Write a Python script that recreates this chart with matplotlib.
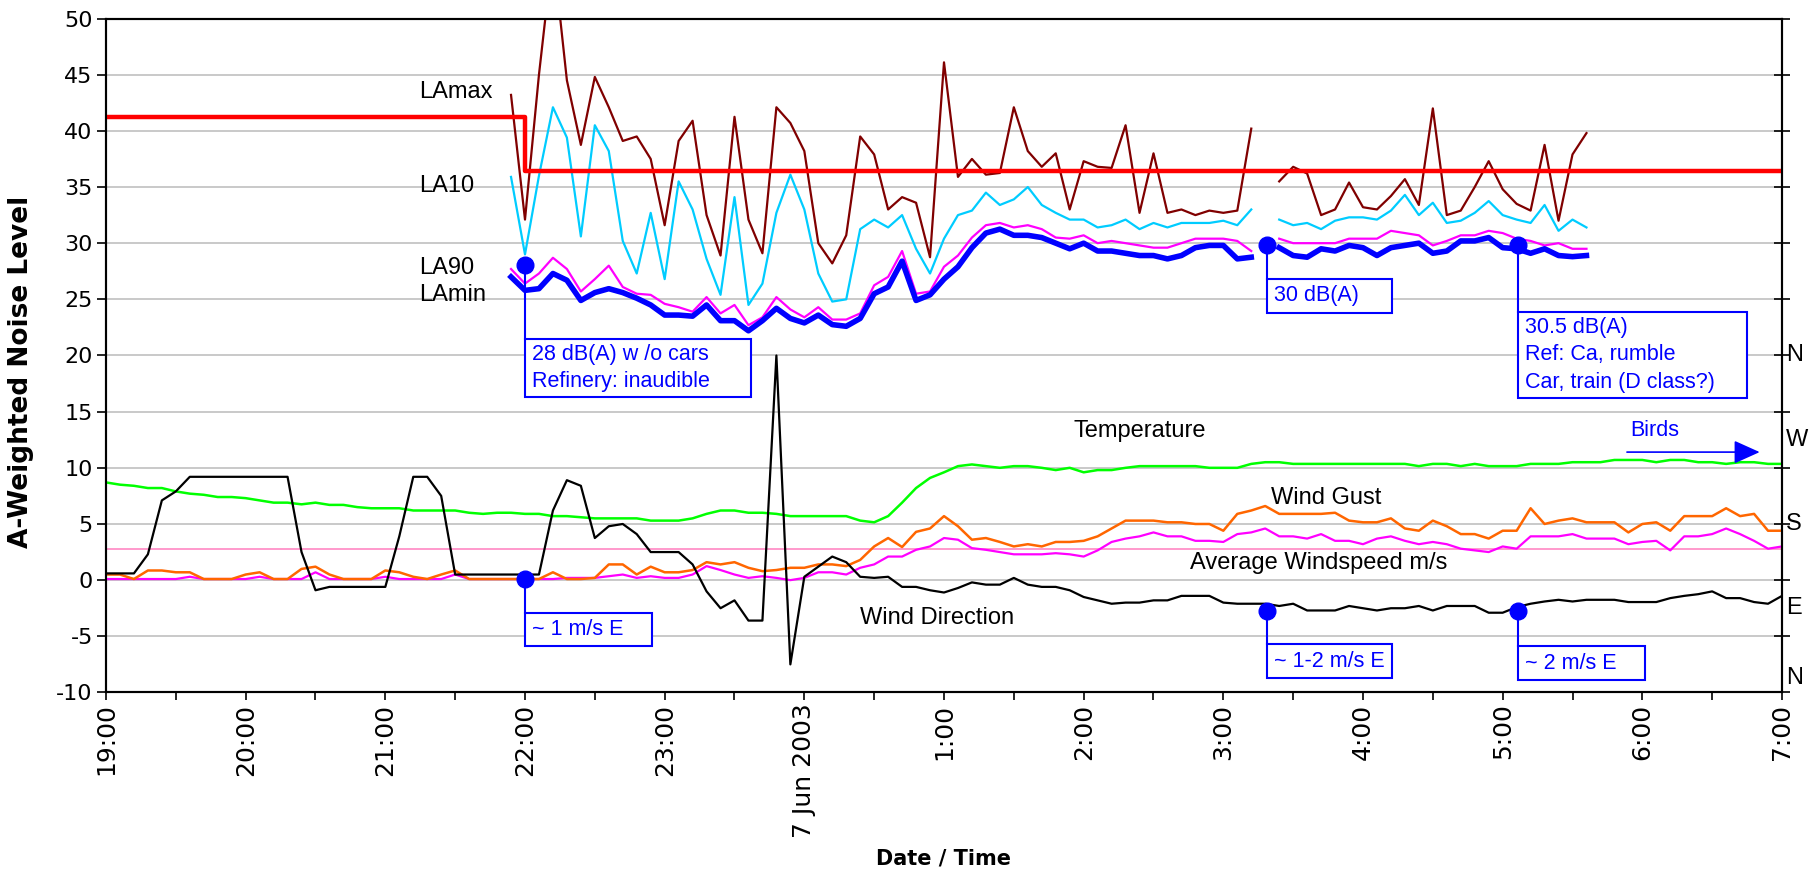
import numpy as np
import matplotlib.pyplot as plt
from matplotlib.patches import Rectangle

plt.rcParams['font.family'] = ['Liberation Sans', 'DejaVu Sans']
plt.rcParams['axes.unicode_minus'] = False

# hours after 19:00 (6 Jun 2003), one sample every 6 minutes
weather_hours = np.arange(121) * 0.1
noise_hours = 2.9 + np.arange(78) * 0.1

hour_ticks = list(range(13))
hour_labels = ['19:00', '20:00', '21:00', '22:00', '23:00', '7 Jun 2003',
               '1:00', '2:00', '3:00', '4:00', '5:00', '6:00', '7:00']

# noise levels dB(A), 21:54 .. 5:36 (gap at 3:18)
la_max = [43.2, 32.1, 45.0, 56.0, 44.5, 38.75, 44.8, 42.1, 39.1, 39.5, 37.5,
          31.6, 39.1, 40.9, 32.5, 28.9, 41.25, 32.1, 29.1, 42.1, 40.7,
          38.2, 30.0, 28.2, 30.7, 39.5, 37.9, 33.0, 34.1, 33.6, 28.75,
          46.1, 35.9, 37.5, 36.1, 36.25, 42.1, 38.2, 36.8, 38.0, 33.0,
          37.3, 36.8, 36.7, 40.5, 32.7, 38.0, 32.7, 33.0, 32.5, 32.9,
          32.7, 32.9, 40.2, np.nan, 35.5, 36.8, 36.2, 32.5, 33.0, 35.4,
          33.2, 33.0, 34.2, 35.7, 33.4, 42.0, 32.5, 32.9, 35.0, 37.3,
          34.8, 33.5, 32.9, 38.75, 32.0, 37.9, 39.8]
la_10 = [35.9, 29.0, 36.0, 42.1, 39.4, 30.6, 40.5, 38.2, 30.2, 27.3, 32.7,
         26.8, 35.5, 33.0, 28.6, 25.4, 34.1, 24.5, 26.4, 32.7, 36.1,
         33.0, 27.3, 24.8, 25.0, 31.25, 32.1, 31.4, 32.5, 29.5, 27.3,
         30.4, 32.5, 32.9, 34.5, 33.4, 33.9, 35.0, 33.4, 32.7, 32.1,
         32.1, 31.4, 31.6, 32.1, 31.25, 31.8, 31.4, 31.8, 31.8, 31.8,
         32.0, 31.6, 33.0, np.nan, 32.1, 31.6, 31.8, 31.25, 32.0, 32.3,
         32.3, 32.1, 32.9, 34.3, 32.5, 33.6, 31.8, 32.0, 32.7, 33.75,
         32.5, 32.1, 31.8, 33.4, 31.1, 32.1, 31.4]
la_90 = [27.7, 26.4, 27.3, 28.7, 27.7, 25.7, 26.8, 28.0, 26.1, 25.5, 25.4,
         24.6, 24.3, 23.9, 25.2, 23.75, 24.5, 22.7, 23.4, 25.2, 24.1,
         23.4, 24.3, 23.2, 23.2, 23.75, 26.25, 27.0, 29.3, 25.5, 25.7,
         27.9, 28.9, 30.5, 31.6, 31.8, 31.4, 31.6, 31.25, 30.5, 30.4,
         30.7, 30.0, 30.2, 30.0, 29.8, 29.6, 29.6, 30.0, 30.4, 30.4,
         30.4, 30.2, 29.3, np.nan, 30.4, 30.0, 30.0, 30.0, 30.0, 30.4,
         30.4, 30.4, 31.1, 30.9, 30.7, 29.8, 30.2, 30.7, 30.7, 31.1,
         30.9, 30.4, 30.2, 29.8, 30.0, 29.5, 29.5]
la_min = [27.0, 25.8, 25.95, 27.3, 26.7, 24.9, 25.6, 25.95, 25.6, 25.1, 24.5,
          23.6, 23.6, 23.5, 24.5, 23.1, 23.1, 22.2, 23.1, 24.2, 23.3,
          22.9, 23.6, 22.75, 22.6, 23.3, 25.5, 26.1, 28.4, 24.9, 25.4,
          26.8, 27.9, 29.6, 30.9, 31.25, 30.7, 30.7, 30.5, 30.0, 29.5,
          30.0, 29.3, 29.3, 29.1, 28.9, 28.9, 28.6, 28.9, 29.6, 29.8,
          29.8, 28.6, 28.75, np.nan, 29.6, 28.9, 28.75, 29.5, 29.3, 29.8,
          29.6, 28.9, 29.6, 29.8, 30.0, 29.1, 29.3, 30.2, 30.2, 30.5,
          29.6, 29.5, 29.1, 29.5, 28.9, 28.8, 28.9]

# criterion level, steps down at 22:00
criterion_hours = [0, 3, 12]
criterion_levels = [41.2, 36.4, 36.4]
reference_level = 2.8

# weather, 19:00 .. 7:00
temperature = [8.7, 8.5, 8.4, 8.2, 8.2, 7.9, 7.7, 7.6, 7.4, 7.4,
               7.3, 7.1, 6.9, 6.9, 6.75, 6.9, 6.7, 6.7, 6.5, 6.4,
               6.4, 6.4, 6.2, 6.2, 6.2, 6.2, 6.0, 5.9, 6.0, 6.0,
               5.9, 5.9, 5.7, 5.7, 5.6, 5.5, 5.5, 5.5, 5.5, 5.3,
               5.3, 5.3, 5.5, 5.9, 6.2, 6.2, 6.0, 6.0, 5.9, 5.7,
               5.7, 5.7, 5.7, 5.7, 5.3, 5.15, 5.7, 6.9, 8.2, 9.1,
               9.6, 10.15, 10.3, 10.15, 10.0, 10.15, 10.15, 10.0, 9.8, 10.0,
               9.6, 9.8, 9.8, 10.0, 10.15, 10.15, 10.15, 10.15, 10.15, 10.0,
               10.0, 10.0, 10.35, 10.5, 10.5, 10.35, 10.35, 10.35, 10.35, 10.35,
               10.35, 10.35, 10.35, 10.35, 10.15, 10.35, 10.35, 10.15, 10.35, 10.15,
               10.15, 10.15, 10.35, 10.35, 10.35, 10.5, 10.5, 10.5, 10.7, 10.7,
               10.7, 10.5, 10.7, 10.7, 10.5, 10.5, 10.35, 10.5, 10.5, 10.35,
               10.35]
wind_gust = [0.5, 0.5, 0.1, 0.86, 0.86, 0.7, 0.7, 0.1, 0.1, 0.1,
             0.5, 0.7, 0.1, 0.1, 1.0, 1.2, 0.5, 0.1, 0.1, 0.1,
             0.86, 0.7, 0.3, 0.1, 0.5, 0.86, 0.1, 0.1, 0.1, 0.1,
             0.1, 0.1, 0.7, 0.1, 0.1, 0.2, 1.4, 1.4, 0.5, 1.2,
             0.7, 0.7, 0.9, 1.6, 1.4, 1.6, 1.1, 0.8, 0.9, 1.1,
             1.1, 1.4, 1.4, 1.25, 1.8, 3.0, 3.75, 2.95, 4.3, 4.6,
             5.7, 4.8, 3.6, 3.75, 3.4, 3.0, 3.2, 3.0, 3.4, 3.4,
             3.5, 3.9, 4.6, 5.3, 5.3, 5.3, 5.15, 5.15, 5.0, 5.0,
             4.4, 5.9, 6.2, 6.6, 5.9, 5.9, 5.9, 5.9, 6.0, 5.3,
             5.15, 5.15, 5.5, 4.6, 4.4, 5.3, 4.8, 4.1, 4.1, 3.7,
             4.4, 4.4, 6.4, 5.0, 5.3, 5.5, 5.15, 5.15, 5.15, 4.25,
             5.0, 5.15, 4.4, 5.7, 5.7, 5.7, 6.4, 5.7, 5.9, 4.4,
             4.4]
wind_speed = [0.1, 0.1, 0.1, 0.1, 0.1, 0.1, 0.3, 0.1, 0.1, 0.1,
              0.1, 0.3, 0.1, 0.1, 0.1, 0.7, 0.1, 0.1, 0.1, 0.1,
              0.3, 0.1, 0.1, 0.1, 0.1, 0.5, 0.1, 0.1, 0.1, 0.1,
              0.1, 0.1, 0.1, 0.2, 0.2, 0.2, 0.35, 0.5, 0.2, 0.35,
              0.2, 0.2, 0.5, 1.25, 0.9, 0.5, 0.2, 0.35, 0.2, 0.0,
              0.2, 0.7, 0.7, 0.5, 1.1, 1.4, 2.1, 2.1, 2.7, 3.0,
              3.75, 3.6, 2.85, 2.7, 2.5, 2.3, 2.3, 2.3, 2.4, 2.3,
              2.1, 2.65, 3.4, 3.7, 3.9, 4.25, 3.9, 3.9, 3.5, 3.5,
              3.4, 4.1, 4.25, 4.6, 3.9, 3.9, 3.7, 4.1, 3.5, 3.5,
              3.2, 3.7, 3.9, 3.5, 3.2, 3.4, 3.2, 2.8, 2.65, 2.5,
              3.0, 2.8, 3.9, 3.9, 3.9, 4.1, 3.7, 3.7, 3.7, 3.2,
              3.4, 3.5, 2.65, 3.9, 3.9, 4.1, 4.6, 4.1, 3.5, 2.8,
              3.0]
wind_direction = [0.6, 0.6, 0.6, 2.3, 7.1, 7.9, 9.2, 9.2, 9.2, 9.2,
                  9.2, 9.2, 9.2, 9.2, 2.5, -0.9, -0.6, -0.6, -0.6, -0.6,
                  -0.6, 3.9, 9.2, 9.2, 7.5, 0.5, 0.5, 0.5, 0.5, 0.5,
                  0.5, 0.5, 6.2, 8.9, 8.4, 3.75, 4.8, 5.0, 4.1, 2.5,
                  2.5, 2.5, 1.4, -1.0, -2.5, -1.8, -3.6, -3.6, 20.0, -7.5,
                  0.3, 1.2, 2.1, 1.6, 0.3, 0.2, 0.3, -0.6, -0.6, -0.9,
                  -1.1, -0.7, -0.2, -0.4, -0.4, 0.2, -0.4, -0.6, -0.6, -0.9,
                  -1.5, -1.8, -2.1, -2.0, -2.0, -1.8, -1.8, -1.4, -1.4, -1.4,
                  -2.0, -2.1, -2.1, -2.1, -2.3, -2.1, -2.7, -2.7, -2.7, -2.3,
                  -2.5, -2.7, -2.5, -2.5, -2.3, -2.7, -2.3, -2.3, -2.3, -2.9,
                  -2.9, -2.4, -2.1, -1.9, -1.75, -1.9, -1.75, -1.75, -1.75, -1.95,
                  -1.95, -1.95, -1.6, -1.4, -1.25, -1.0, -1.6, -1.6, -1.95, -2.1,
                  -1.4]

# compass labels for the wind direction scale on the right
compass_labels = ['N', 'W', 'S', 'E', 'N']
compass_levels = [20, 12.5, 5, -2.5, -8.7]

# callouts
callout_hours = [3.0, 8.31, 10.11]
noise_callout_levels = [28.1, 29.8, 29.8]
noise_callout_text = ['28 dB(A) w /o cars\nRefinery: inaudible',
                      '30 dB(A)',
                      '30.5 dB(A)\nRef: Ca, rumble\nCar, train (D class?)']
wind_callout_levels = [0.1, -2.75, -2.75]
wind_callout_text = ['~ 1 m/s E', '~ 1-2 m/s E', '~ 2 m/s E']

BLUE = '#0000ff'

fig = plt.figure(figsize=(18.18, 8.74), dpi=100)
ax = fig.add_axes([0.0583, 0.2077, 0.9219, 0.7711])
ax.set_xlim(0, 12)
ax.set_ylim(-10, 50)

ax.grid(axis='y', color='#c0c0c0', lw=1.2)
ax.set_axisbelow(True)
for s in ax.spines.values():
    s.set_linewidth(1.5)

ax.set_yticks(range(-10, 51, 5))
ax.set_xticks(hour_ticks)
ax.set_xticks(np.arange(0.5, 12, 1.0), minor=True)
ax.set_xticklabels(hour_labels, rotation=90, family='DejaVu Sans', fontsize=18)
ax.tick_params(axis='x', which='both', direction='out', length=6, width=1.2, pad=2)
ax.tick_params(axis='y', direction='out', length=6.5, width=1.2, pad=3, labelsize=16)
for lab in ax.get_yticklabels():
    lab.set_family('DejaVu Sans')

ax2 = ax.twinx()
ax2.set_ylim(-10, 50)
ax2.set_yticks(range(-10, 51, 5))
ax2.tick_params(axis='y', direction='inout', length=11, width=1.2, labelright=False)
for s in ax2.spines.values():
    s.set_linewidth(1.5)

# noise
ax.plot(noise_hours, la_max, color='#800000', lw=1.6, zorder=3)
ax.plot(noise_hours, la_10, color='#00ccff', lw=1.6, zorder=3)
ax.plot(noise_hours, la_90, color='#ff00ff', lw=1.6, zorder=3)
ax.plot(noise_hours, la_min, color=BLUE, lw=4, zorder=3)

# weather
ax.axhline(reference_level, color='#ff99cc', lw=1.4, zorder=2)
ax.plot(weather_hours, temperature, color='#00ff00', lw=1.8, zorder=3)
ax.plot(weather_hours, wind_speed, color='#ff00ff', lw=1.6, zorder=3)
ax.plot(weather_hours, wind_gust, color='#ff6600', lw=1.8, zorder=3)
ax.plot(weather_hours, wind_direction, color='black', lw=1.6, zorder=3)

ax.plot(criterion_hours, criterion_levels, drawstyle='steps-post',
        color='#ff0000', lw=3.2, zorder=4)

# series labels
for txt, y in [('LAmax', 43.5), ('LA10', 35.1), ('LA90', 27.8), ('LAmin', 25.4)]:
    ax.text(2.24, y, txt, fontsize=17, ha='left', va='center')
ax.text(7.40, 13.3, 'Temperature', fontsize=17, ha='center', va='center')
ax.text(8.74, 7.3, 'Wind Gust', fontsize=17, ha='center', va='center')
ax.text(8.68, 1.5, 'Average Windspeed m/s', fontsize=17, ha='center', va='center')
ax.text(5.95, -3.4, 'Wind Direction', fontsize=17, ha='center', va='center')

ax.text(11.09, 13.3, 'Birds', fontsize=15.5, color=BLUE, ha='center', va='center')
ax.annotate('', xy=(11.86, 11.4), xytext=(10.87, 11.4),
            arrowprops=dict(arrowstyle='-|>,head_length=0.8,head_width=0.36',
                            color=BLUE, lw=1.2, mutation_scale=20))

for txt, y in zip(compass_labels, compass_levels):
    ax.text(12.03, y, txt, fontsize=17, ha='left', va='center', clip_on=False)

# callout boxes: (left, right, bottom, top)
noise_boxes = [(3.0, 4.62, 16.3, 21.5), (8.31, 9.21, 23.8, 26.85),
               (10.11, 11.75, 16.2, 23.9)]
wind_boxes = [(3.0, 3.91, -5.9, -2.9), (8.31, 9.21, -8.75, -5.7),
              (10.11, 11.02, -8.9, -5.9)]

for hx, lv, txt, box in zip(callout_hours * 2,
                            noise_callout_levels + wind_callout_levels,
                            noise_callout_text + wind_callout_text,
                            noise_boxes + wind_boxes):
    x0, x1, y0, y1 = box
    ax.plot([hx, hx], [lv, y1], color=BLUE, lw=1.5, zorder=5)
    ax.add_patch(Rectangle((x0, y0), x1 - x0, y1 - y0, facecolor='white',
                           edgecolor=BLUE, lw=1.5, zorder=6))
    ax.text(x0 + 0.05, (y0 + y1) / 2, txt, color=BLUE, fontsize=15.5,
            ha='left', va='center', linespacing=1.38, zorder=7)
    ax.plot(hx, lv, 'o', color=BLUE, ms=12, zorder=6)

fig.text(0.0116, 0.574, 'A-Weighted Noise Level', rotation=90, fontsize=19,
         weight='bold', family='DejaVu Sans', ha='center', va='center')
fig.text(0.519, 0.018, 'Date / Time', fontsize=15, weight='bold',
         family='DejaVu Sans', ha='center', va='center')

fig.savefig('out.png', dpi=100)
